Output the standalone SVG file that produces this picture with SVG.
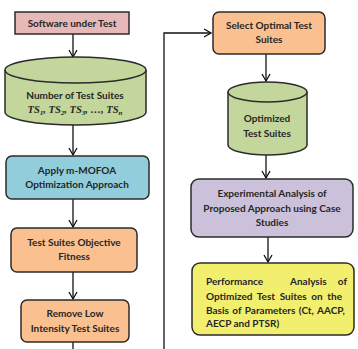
<svg xmlns="http://www.w3.org/2000/svg" width="358" height="349" viewBox="0 0 358 349">
<defs>
<style>
.b{stroke:#2b2b2b;stroke-width:1.5}
.t{font-family:Lato,"Open Sans",sans-serif;font-weight:bold;font-size:10px;fill:#262626;text-anchor:middle}
.l{text-anchor:start}
.c{fill:none;stroke:#111;stroke-width:1.3}
</style>
<marker id="a" markerWidth="10" markerHeight="10" refX="8" refY="5" orient="auto" markerUnits="userSpaceOnUse">
<path d="M1,1 L8,5 L1,9" fill="none" stroke="#111" stroke-width="1.3"/>
</marker>
</defs>
<rect width="358" height="349" fill="#fff"/>
<g id="connectors">
<line class="c" x1="73" y1="34" x2="73" y2="57" marker-end="url(#a)"/>
<line class="c" x1="73" y1="125" x2="73" y2="155" marker-end="url(#a)"/>
<line class="c" x1="73" y1="199" x2="73" y2="227" marker-end="url(#a)"/>
<line class="c" x1="73" y1="272" x2="73" y2="299" marker-end="url(#a)"/>
<line class="c" x1="73" y1="342" x2="73" y2="349"/>
<polyline class="c" points="164,349 164,33 211,33" marker-end="url(#a)"/>
<line class="c" x1="266" y1="54" x2="266" y2="81" marker-end="url(#a)"/>
<line class="c" x1="266" y1="155" x2="266" y2="178" marker-end="url(#a)"/>
<line class="c" x1="268" y1="237" x2="268" y2="262" marker-end="url(#a)"/>
</g>
<g id="n1">
<rect class="b" x="15" y="12" width="114" height="22" fill="#E6B9B8"/>
<text class="t" x="72" y="27">Software under Test</text>
</g>
<g id="n2">
<path class="b" d="M5,70 A70.5,13 0 0 1 146,70 L146,112 A70.5,13 0 0 1 5,112 Z" fill="#C3D69B"/>
<path class="b" d="M5,70 A70.5,13 0 0 0 146,70" fill="none"/>
<text class="t" x="75" y="99">Number of Test Suites</text>
<text x="75" y="113" text-anchor="middle" font-family="'Liberation Serif',serif" font-style="italic" font-weight="bold" font-size="10.5" fill="#262626">TS<tspan font-size="7" dy="2">1</tspan><tspan dy="-2">, TS</tspan><tspan font-size="7" dy="2">2</tspan><tspan dy="-2">, TS</tspan><tspan font-size="7" dy="2">3</tspan><tspan dy="-2">, …, TS</tspan><tspan font-size="7" dy="2">n</tspan></text>
</g>
<g id="n3">
<rect class="b" x="6" y="156" width="143" height="43" rx="6" fill="#92CDDC"/>
<text class="t" x="77" y="174">Apply m-MOFOA</text>
<text class="t" x="77" y="188">Optimization Approach</text>
</g>
<g id="n4">
<rect class="b" x="11" y="228" width="126" height="44" rx="6" fill="#FAC090"/>
<text class="t" x="74" y="246">Test Suites Objective</text>
<text class="t" x="74" y="260">Fitness</text>
</g>
<g id="n5">
<rect class="b" x="21" y="300" width="108" height="42" rx="6" fill="#FAC090"/>
<text class="t" x="75" y="317">Remove Low</text>
<text class="t" x="75" y="332">Intensity Test Suites</text>
</g>
<g id="n6">
<rect class="b" x="213" y="12" width="112" height="42" rx="6" fill="#FAC090"/>
<text class="t" x="269" y="29">Select Optimal Test</text>
<text class="t" x="269" y="43">Suites</text>
</g>
<g id="n7">
<path class="b" d="M228,92 A39.5,10 0 0 1 307,92 L307,145 A39.5,10 0 0 1 228,145 Z" fill="#C3D69B"/>
<path class="b" d="M228,92 A39.5,10 0 0 0 307,92" fill="none"/>
<text class="t" x="267" y="122">Optimized</text>
<text class="t" x="267" y="137">Test Suites</text>
</g>
<g id="n8">
<rect class="b" x="191" y="179" width="162" height="58" rx="8" fill="#CCC1DA"/>
<text class="t" x="272" y="197">Experimental Analysis of</text>
<text class="t" x="272" y="212">Proposed Approach using Case</text>
<text class="t" x="272" y="226">Studies</text>
</g>
<g id="n9">
<rect class="b" x="192" y="263" width="162" height="72" rx="8" fill="#F2EF6F"/>
<text class="t l" y="285"><tspan x="206">Performance</tspan><tspan x="290">Analysis</tspan><tspan x="347" style="text-anchor:end">of</tspan></text>
<text class="t l" x="206" y="300" word-spacing="2.2">Optimized Test Suites on the</text>
<text class="t l" x="206" y="314" word-spacing="1">Basis of Parameters (Ct, AACP,</text>
<text class="t l" x="206" y="327">AECP and PTSR)</text>
</g>
</svg>
